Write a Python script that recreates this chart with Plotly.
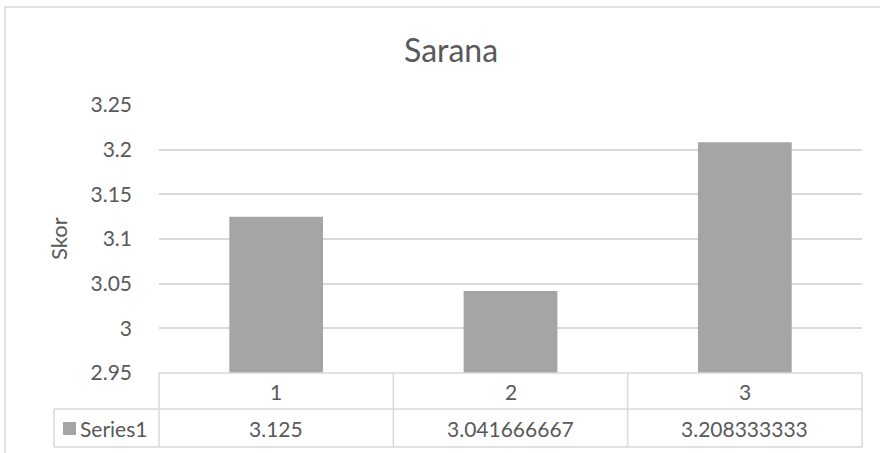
import plotly.graph_objects as go

categories = ["1", "2", "3"]
series_name = "Series1"
values = [3.125, 3.041666667, 3.208333333]
value_labels = ["3.125", "3.041666667", "3.208333333"]
tick_vals = [2.95, 3.0, 3.05, 3.1, 3.15, 3.2, 3.25]
tick_text = ["2.95", "3", "3.05", "3.1", "3.15", "3.2", "3.25"]
title_text = "Sarana"
y_title = "Skor"

OFF = 0  # page body margin (removed by post_script)
W, H = 880 - OFF, 453 - OFF
L, R, T, B = 159 - OFF, 862 - OFF, 105 - OFF, 373 - OFF  # plot area in figure pixels
FONT = "Lato"
TXT = "#595959"
GRID = "#D9D9D9"


def px(x):
    # x in screen pixels
    return (x - OFF - L) / (R - L)


def py(y):
    return (B - (y - OFF)) / (B - T)


fig = go.Figure()
fig.add_trace(go.Bar(x=categories, y=values, name=series_name,
                     marker=dict(color="#A5A5A5", line=dict(width=0)),
                     width=0.4))

shapes = []
# outer chart border
shapes.append(dict(type="rect", xref="paper", yref="paper",
                   x0=px(5), x1=px(900), y0=py(7), y1=py(470),
                   line=dict(color=GRID, width=1.5)))
# data table lines (screen pixel coordinates)
sL, sR = 159, 862
col_edges = [sL, sL + (sR - sL) / 3, sL + 2 * (sR - sL) / 3, sR]
row_top, row_mid, row_bot = 373, 409, 447
leg_left = 54
for y, x0 in [(row_top, sL), (row_mid, leg_left), (row_bot, leg_left)]:
    shapes.append(dict(type="line", xref="paper", yref="paper",
                       x0=px(x0), x1=px(sR), y0=py(y), y1=py(y),
                       line=dict(color=GRID, width=1.5)))
for x in col_edges:
    shapes.append(dict(type="line", xref="paper", yref="paper",
                       x0=px(x), x1=px(x), y0=py(row_top), y1=py(row_bot),
                       line=dict(color=GRID, width=1.5)))
shapes.append(dict(type="line", xref="paper", yref="paper",
                   x0=px(leg_left), x1=px(leg_left), y0=py(row_mid), y1=py(row_bot),
                   line=dict(color=GRID, width=1.5)))
# legend key
shapes.append(dict(type="rect", xref="paper", yref="paper",
                   x0=px(63), x1=px(76), y0=py(435), y1=py(422),
                   fillcolor="#A5A5A5", line=dict(width=0)))

annotations = []
annotations.append(dict(text=title_text, xref="paper", yref="paper",
                        x=px(451), y=py(50), showarrow=False,
                        xanchor="center", yanchor="middle",
                        font=dict(family=FONT, size=32, color=TXT)))
annotations.append(dict(text=y_title, xref="paper", yref="paper",
                        x=px(58), y=py(239), showarrow=False, textangle=-90,
                        xanchor="center", yanchor="middle",
                        font=dict(family=FONT, size=22, color=TXT)))
for i, (c, lab) in enumerate(zip(categories, value_labels)):
    annotations.append(dict(text=c, xref="x", yref="paper", x=i,
                            y=py((row_top + row_mid) / 2), showarrow=False,
                            xanchor="center", yanchor="middle",
                            font=dict(family=FONT, size=21, color=TXT)))
    annotations.append(dict(text=lab, xref="x", yref="paper", x=i,
                            y=py((row_mid + row_bot) / 2), showarrow=False,
                            xanchor="center", yanchor="middle",
                            font=dict(family=FONT, size=21, color=TXT)))
annotations.append(dict(text=series_name, xref="paper", yref="paper",
                        x=px(78), y=py(428), showarrow=False,
                        xanchor="left", yanchor="middle",
                        font=dict(family=FONT, size=21, color=TXT)))

fig.update_layout(
    width=W, height=H, autosize=False,
    margin=dict(l=L, r=W - R, t=T, b=H - B, pad=0),
    paper_bgcolor="white", plot_bgcolor="white",
    showlegend=False, hovermode=False,
    font=dict(family=FONT, color=TXT),
    shapes=shapes, annotations=annotations,
    xaxis=dict(type="category", range=[-0.5, len(categories) - 0.5],
               showticklabels=False, showgrid=False,
               zeroline=False, showline=False, ticks=""),
    yaxis=dict(range=[2.95, 3.25], tickvals=tick_vals, ticktext=tick_text,
               showgrid=True, gridcolor=GRID, gridwidth=1.5, zeroline=False,
               showline=False, ticks="", ticklabelstandoff=26,
               tickfont=dict(family=FONT, size=21, color=TXT)),
)

fig.write_html("out.html", config={"displayModeBar": False},
               post_script="document.body.style.margin='0';"
                           "document.body.style.overflow='hidden';")
